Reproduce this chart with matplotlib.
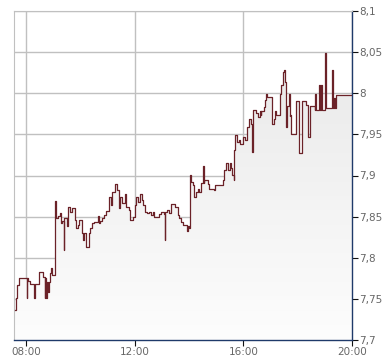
import numpy as np
import matplotlib.pyplot as plt
from matplotlib.colors import LinearSegmentedColormap

# intraday quotes (time, price)
times = ["07:35", "07:37", "07:38", "07:41", "07:44", "08:01", "08:02", "08:04", "08:09", "08:18",
         "08:19", "08:28", "08:38", "08:41", "08:42", "08:43", "08:44", "08:45", "08:47", "08:49",
         "08:51", "08:53", "08:56", "08:58", "09:03", "09:04", "09:07", "09:10", "09:14", "09:17",
         "09:20", "09:23", "09:24", "09:30", "09:33", "09:38", "09:42", "09:49", "09:51", "09:54",
         "09:57", "10:04", "10:06", "10:09", "10:12", "10:18", "10:22", "10:26", "10:30", "10:38",
         "10:42", "10:44", "10:48", "10:52", "10:56", "11:03", "11:07", "11:10", "11:16", "11:20",
         "11:25", "11:27", "11:32", "11:38", "11:41", "11:44", "11:47", "11:50", "11:57", "12:00",
         "12:03", "12:08", "12:12", "12:17", "12:19", "12:22", "12:28", "12:32", "12:37", "12:40",
         "12:43", "12:52", "12:54", "12:58", "13:04", "13:06", "13:07", "13:11", "13:16", "13:20",
         "13:29", "13:35", "13:38", "13:42", "13:46", "13:55", "13:57", "13:59", "14:02", "14:04",
         "14:08", "14:10", "14:15", "14:19", "14:23", "14:27", "14:30", "14:32", "14:34", "14:42",
         "14:45", "14:55", "14:58", "15:11", "15:15", "15:17", "15:22", "15:27", "15:30", "15:33",
         "15:36", "15:39", "15:40", "15:42", "15:45", "15:50", "15:53", "15:59", "16:04", "16:08",
         "16:13", "16:17", "16:20", "16:22", "16:27", "16:32", "16:36", "16:38", "16:40", "16:45",
         "16:47", "16:50", "16:53", "17:03", "17:08", "17:11", "17:13", "17:21", "17:24", "17:27",
         "17:29", "17:31", "17:33", "17:35", "17:36", "17:40", "17:42", "17:44", "17:46", "17:57",
         "18:02", "18:10", "18:18", "18:23", "18:28", "18:38", "18:39", "18:40", "18:48", "18:49",
         "18:52", "18:53", "19:00", "19:02", "19:16", "19:18", "19:20", "19:22", "19:24", "19:59"]
prices = [7.736, 7.747, 7.751, 7.767, 7.775, 7.751, 7.775, 7.772, 7.768, 7.751,
          7.768, 7.783, 7.777, 7.751, 7.775, 7.751, 7.775, 7.751, 7.770, 7.758,
          7.770, 7.781, 7.787, 7.779, 7.858, 7.869, 7.848, 7.851, 7.854, 7.842,
          7.845, 7.809, 7.848, 7.839, 7.862, 7.856, 7.860, 7.846, 7.836, 7.840,
          7.846, 7.830, 7.821, 7.830, 7.813, 7.830, 7.836, 7.842, 7.844, 7.851,
          7.842, 7.845, 7.848, 7.852, 7.857, 7.874, 7.864, 7.880, 7.890, 7.882,
          7.860, 7.874, 7.866, 7.878, 7.862, 7.862, 7.858, 7.846, 7.850, 7.864,
          7.874, 7.868, 7.878, 7.870, 7.864, 7.856, 7.854, 7.856, 7.852, 7.856,
          7.850, 7.850, 7.853, 7.856, 7.853, 7.822, 7.856, 7.858, 7.855, 7.865,
          7.862, 7.852, 7.848, 7.844, 7.840, 7.832, 7.838, 7.836, 7.901, 7.892,
          7.888, 7.874, 7.880, 7.884, 7.880, 7.891, 7.911, 7.891, 7.895, 7.890,
          7.884, 7.882, 7.888, 7.888, 7.895, 7.907, 7.915, 7.907, 7.915, 7.909,
          7.901, 7.895, 7.931, 7.949, 7.941, 7.943, 7.938, 7.947, 7.943, 7.959,
          7.969, 7.963, 7.929, 7.980, 7.976, 7.971, 7.978, 7.974, 7.978, 7.983,
          7.992, 7.999, 7.995, 7.963, 7.969, 7.978, 7.974, 7.999, 8.010, 8.026,
          8.028, 8.018, 8.014, 7.959, 7.984, 7.999, 7.972, 7.974, 7.951, 7.990,
          7.927, 7.990, 7.986, 7.947, 7.984, 7.980, 7.999, 7.980, 8.010, 7.980,
          8.010, 7.980, 8.049, 7.982, 8.028, 7.982, 7.994, 7.982, 7.998, 7.998]

x_ticks = [8, 12, 16, 20]
x_labels = ["08:00", "12:00", "16:00", "20:00"]
y_ticks = [7.7, 7.75, 7.8, 7.85, 7.9, 7.95, 8.0, 8.05, 8.1]
y_labels = ["7,7", "7,75", "7,8", "7,85", "7,9", "7,95", "8", "8,05", "8,1"]

hours = np.array([int(t[:2]) + int(t[3:]) / 60 for t in times])
prices = np.array(prices)

fig = plt.figure(figsize=(3.9, 3.64), dpi=100)
ax = fig.add_axes([14 / 390, 24 / 364, 338 / 390, 329 / 364])

ax.set_xlim(8 - 12 / 27, 20)
ax.set_ylim(7.7, 8.1)

# gradient fill under the step line
poly = ax.fill_between(hours, prices, 7.7, step="post", color="none", lw=0)
cmap = LinearSegmentedColormap.from_list("g", ["#fdfdfd", "#e9e9e9"])
grad = np.linspace(0, 1, 256).reshape(-1, 1)
img = ax.imshow(grad, cmap=cmap, aspect="auto", origin="lower",
                extent=[7.5, 20, 7.7, 8.05], zorder=1)
img.set_clip_path(poly.get_paths()[0], transform=ax.transData)

ax.step(hours, prices, where="post", color="#6b2228", lw=0.9, zorder=3)

ax.set_xticks(x_ticks)
ax.set_xticklabels(x_labels)
ax.set_yticks(y_ticks)
ax.set_yticklabels(y_labels)
ax.yaxis.tick_right()
ax.grid(True, color="#c0c0c0", lw=1.0, zorder=0)
ax.set_axisbelow(True)

ax.tick_params(axis="both", colors="#111111", labelcolor="#666666",
               labelsize=7.5, length=4, width=0.8, direction="out", pad=1)

for side in ["left", "top"]:
    ax.spines[side].set_color("#c0c0c0")
for side in ["right", "bottom"]:
    ax.spines[side].set_color("#1f3a6a")
    ax.spines[side].set_linewidth(1.0)

fig.savefig("out.png", dpi=100)
